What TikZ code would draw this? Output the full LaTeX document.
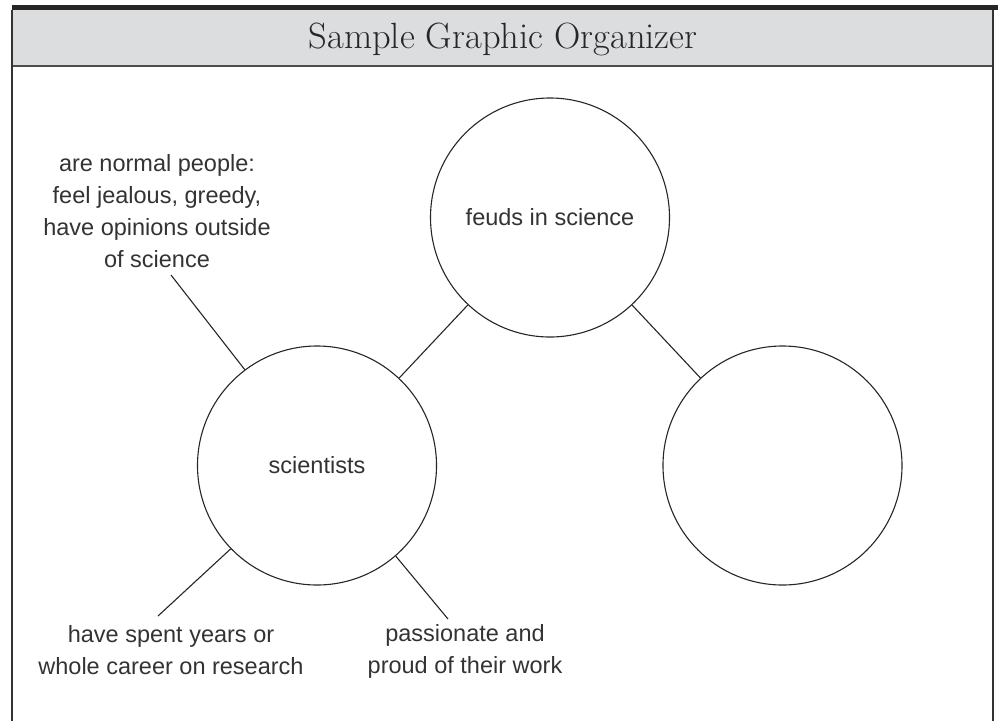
\documentclass[tikz,border=0pt]{standalone}
\usepackage{fontspec}
\usepackage{tikz}
\newfontfamily\handfont{Liberation Sans}
\definecolor{headgray}{HTML}{DCDDDF}
\definecolor{inkgray}{HTML}{333333}

\begin{document}
\begin{tikzpicture}[x=1pt,y=-1pt,
    bubble/.style={draw=black!85,line width=1.1pt,circle,minimum size=239pt,inner sep=0pt,
      font=\handfont\fontsize{23.5}{32}\selectfont,text=inkgray},
    note/.style={align=center,inner sep=0pt,font=\handfont\fontsize{23.5}{32}\selectfont,text=inkgray},
    link/.style={draw=black!85,line width=1.1pt}]
  \useasboundingbox (0,0) rectangle (998,721);
  % frame and header
  \fill[headgray] (12,10) rectangle (993,66);
  \draw[line width=4.5pt,black!85] (12,7.5) -- (998,7.5);
  \draw[line width=1.4pt,black!70] (12,66) -- (993,66);
  \draw[line width=1.4pt,black!80] (12,10) -- (12,721);
  \draw[line width=1.4pt,black!80] (993,10) -- (993,721);
  \node[text=black!85] (title) at (503,39) {\fontsize{36.5}{40}\selectfont Sample Graphic Organizer};
  % bubbles
  \node[bubble] (feuds) at (550,217.5) {feuds in science};
  \node[bubble] (sci) at (317,465.5) {scientists};
  \node[bubble] (blank) at (782.5,465.5) {};
  \draw[link] (feuds) -- (sci);
  \draw[link] (feuds) -- (blank);
  % details
  \node[note] (normal) at (157,211) {are normal people:\\feel jealous, greedy,\\have opinions outside\\of science};
  \node[note] (spent) at (171,650) {have spent years or\\whole career on research};
  \node[note] (proud) at (465,651) {passionate and\\proud of their work};
  \coordinate (normalend) at (171,275);
  \coordinate (spentend) at (158,616);
  \coordinate (proudend) at (448,619);
  \draw[link] (normalend) -- (sci.127);
  \draw[link] (spentend) -- (sci.-136.5);
  \draw[link] (proudend) -- (sci.-49);
\end{tikzpicture}
\end{document}
